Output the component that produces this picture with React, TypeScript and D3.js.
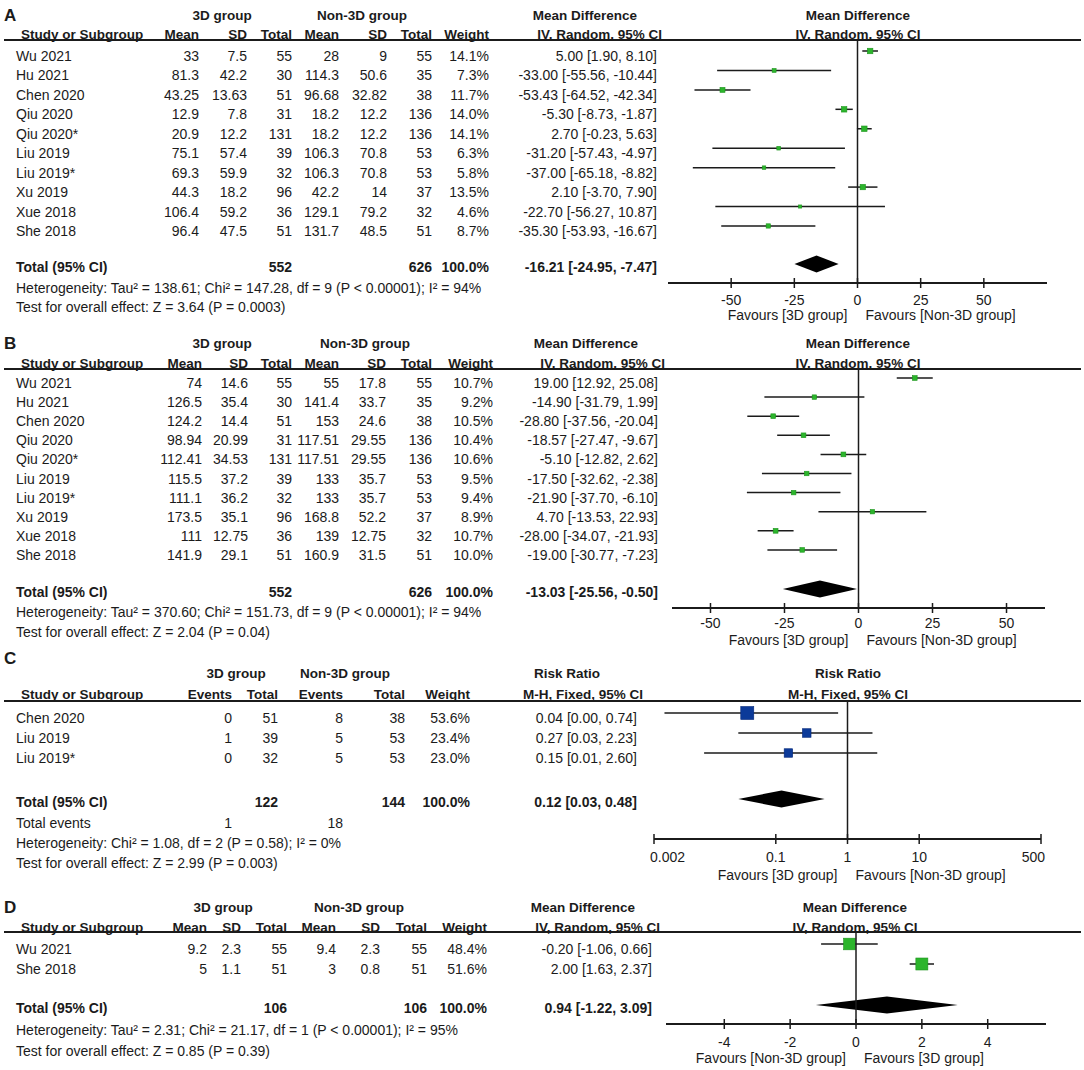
import * as d3 from "d3";

// ---------- Panel A : mean difference, random effects ----------
const STUDIES_A = ["Wu 2021", "Hu 2021", "Chen 2020", "Qiu 2020", "Qiu 2020*", "Liu 2019", "Liu 2019*", "Xu 2019", "Xue 2018", "She 2018"];
const MEAN_3D_A = [33, 81.3, 43.25, 12.9, 20.9, 75.1, 69.3, 44.3, 106.4, 96.4];
const SD_3D_A = [7.5, 42.2, 13.63, 7.8, 12.2, 57.4, 59.9, 18.2, 59.2, 47.5];
const N_3D_A = [55, 30, 51, 31, 131, 39, 32, 96, 36, 51];
const MEAN_NON_A = [28, 114.3, 96.68, 18.2, 18.2, 106.3, 106.3, 42.2, 129.1, 131.7];
const SD_NON_A = [9, 50.6, 32.82, 12.2, 12.2, 70.8, 70.8, 14, 79.2, 48.5];
const N_NON_A = [55, 35, 38, 136, 136, 53, 53, 37, 32, 51];
const WEIGHT_A = [14.1, 7.3, 11.7, 14.0, 14.1, 6.3, 5.8, 13.5, 4.6, 8.7];
const MD_A = [5.0, -33.0, -53.43, -5.3, 2.7, -31.2, -37.0, 2.1, -22.7, -35.3];
const LO_A = [1.9, -55.56, -64.52, -8.73, -0.23, -57.43, -65.18, -3.7, -56.27, -53.93];
const HI_A = [8.1, -10.44, -42.34, -1.87, 5.63, -4.97, -8.82, 7.9, 10.87, -16.67];
const TOTAL_A = { n3d: 552, nNon: 626, est: -16.21, lo: -24.95, hi: -7.47 };
const NOTES_A = [
  "Heterogeneity: Tau² = 138.61; Chi² = 147.28, df = 9 (P < 0.00001); I² = 94%",
  "Test for overall effect: Z = 3.64 (P = 0.0003)",
];

// ---------- Panel B ----------
const STUDIES_B = ["Wu 2021", "Hu 2021", "Chen 2020", "Qiu 2020", "Qiu 2020*", "Liu 2019", "Liu 2019*", "Xu 2019", "Xue 2018", "She 2018"];
const MEAN_3D_B = [74, 126.5, 124.2, 98.94, 112.41, 115.5, 111.1, 173.5, 111, 141.9];
const SD_3D_B = [14.6, 35.4, 14.4, 20.99, 34.53, 37.2, 36.2, 35.1, 12.75, 29.1];
const N_3D_B = [55, 30, 51, 31, 131, 39, 32, 96, 36, 51];
const MEAN_NON_B = [55, 141.4, 153, 117.51, 117.51, 133, 133, 168.8, 139, 160.9];
const SD_NON_B = [17.8, 33.7, 24.6, 29.55, 29.55, 35.7, 35.7, 52.2, 12.75, 31.5];
const N_NON_B = [55, 35, 38, 136, 136, 53, 53, 37, 32, 51];
const WEIGHT_B = [10.7, 9.2, 10.5, 10.4, 10.6, 9.5, 9.4, 8.9, 10.7, 10.0];
const MD_B = [19.0, -14.9, -28.8, -18.57, -5.1, -17.5, -21.9, 4.7, -28.0, -19.0];
const LO_B = [12.92, -31.79, -37.56, -27.47, -12.82, -32.62, -37.7, -13.53, -34.07, -30.77];
const HI_B = [25.08, 1.99, -20.04, -9.67, 2.62, -2.38, -6.1, 22.93, -21.93, -7.23];
const TOTAL_B = { n3d: 552, nNon: 626, est: -13.03, lo: -25.56, hi: -0.5 };
const NOTES_B = [
  "Heterogeneity: Tau² = 370.60; Chi² = 151.73, df = 9 (P < 0.00001); I² = 94%",
  "Test for overall effect: Z = 2.04 (P = 0.04)",
];

// ---------- Panel C : risk ratio, fixed effect ----------
const STUDIES_C = ["Chen 2020", "Liu 2019", "Liu 2019*"];
const EVENTS_3D_C = [0, 1, 0];
const N_3D_C = [51, 39, 32];
const EVENTS_NON_C = [8, 5, 5];
const N_NON_C = [38, 53, 53];
const WEIGHT_C = [53.6, 23.4, 23.0];
const RR_C = [0.04, 0.27, 0.15];
const LO_C = [0.0028, 0.03, 0.01];
const HI_C = [0.74, 2.23, 2.6];
const TOTAL_C = { n3d: 122, nNon: 144, ev3d: 1, evNon: 18, est: 0.12, lo: 0.03, hi: 0.48 };
const NOTES_C = [
  "Heterogeneity: Chi² = 1.08, df = 2 (P = 0.58); I² = 0%",
  "Test for overall effect: Z = 2.99 (P = 0.003)",
];

// ---------- Panel D ----------
const STUDIES_D = ["Wu 2021", "She 2018"];
const MEAN_3D_D = [9.2, 5];
const SD_3D_D = [2.3, 1.1];
const N_3D_D = [55, 51];
const MEAN_NON_D = [9.4, 3];
const SD_NON_D = [2.3, 0.8];
const N_NON_D = [55, 51];
const WEIGHT_D = [48.4, 51.6];
const MD_D = [-0.2, 2.0];
const LO_D = [-1.06, 1.63];
const HI_D = [0.66, 2.37];
const TOTAL_D = { n3d: 106, nNon: 106, est: 0.94, lo: -1.22, hi: 3.09 };
const NOTES_D = [
  "Heterogeneity: Tau² = 2.31; Chi² = 21.17, df = 1 (P < 0.00001); I² = 95%",
  "Test for overall effect: Z = 0.85 (P = 0.39)",
];

const TICKS_MD = [-50, -25, 0, 25, 50];
const TICKS_RR = [0.002, 0.1, 1, 10, 500];
const TICKS_D = [-4, -2, 0, 2, 4];

const FONT = "'Liberation Sans', Arial, Helvetica, sans-serif";
const INK = "#1b1b1b";
const GREEN = "#2cb52c";
const GREEN_EDGE = "#1f951f";
const BLUE = "#0c3a99";
const BLUE_EDGE = "#06297a";

const num = (v: number) => String(v);
const pct = (w: number) => `${w.toFixed(1)}%`;
const ciText = (e: number, l: number, h: number) => `${e.toFixed(2)} [${l.toFixed(2)}, ${h.toFixed(2)}]`;

type Column = { header: string; x: number; cells: string[]; total?: string; events?: string };

type PanelSpec = {
  letter: string;
  letterY: number;
  groupY: number;
  headY: number;
  ruleY: number;
  rowY: number;
  rowStep: number;
  totalY: number;
  eventsY?: number;
  notesY: number[];
  groups: { label: string; x: number }[];
  columns: Column[];
  studies: string[];
  effTitle: string;
  effMethod: string;
  effTitleX: number;
  effMethodX: number;
  ciX: number;
  plotTitleX: number;
  scale: (v: number) => number;
  range: number[];
  refValue: number;
  ticks: number[];
  est: number[];
  lo: number[];
  hi: number[];
  weights: number[];
  maxBox: number;
  total: { est: number; lo: number; hi: number };
  color: string;
  edge: string;
  axisY: number;
  tickY: number;
  favY: number;
  favLeft: string;
  favRight: string;
  notes: string[];
};

const Txt = ({
  x,
  y,
  children,
  anchor = "start",
  bold = false,
  size = 14,
}: {
  x: number;
  y: number;
  children: any;
  anchor?: "start" | "middle" | "end";
  bold?: boolean;
  size?: number;
}) => (
  <text
    x={x}
    y={y}
    textAnchor={anchor}
    dominantBaseline="central"
    fontWeight={bold ? "bold" : "normal"}
    fontSize={size}
    fill={INK}
  >
    {children}
  </text>
);

const Panel = (p: PanelSpec) => {
  const rowYs = p.studies.map((_, i) => p.rowY + i * p.rowStep);
  const box = d3.scaleSqrt().domain([0, d3.max(p.weights) as number]).range([0, p.maxBox]);
  const x = p.scale;
  const ref = x(p.refValue);
  const [r0, r1] = p.range;
  const dy = p.totalY - 3;
  const dh = 8.5;
  const diamond = [
    [x(p.total.lo), dy],
    [x(p.total.est), dy - dh],
    [x(p.total.hi), dy],
    [x(p.total.est), dy + dh],
  ];

  return (
    <g>
      <Txt x={4} y={p.letterY} bold size={17}>{p.letter}</Txt>
      {p.groups.map((g) => (
        <Txt key={g.label} x={g.x} y={p.groupY} anchor="middle" bold size={13.5}>{g.label}</Txt>
      ))}
      <Txt x={p.effTitleX} y={p.groupY} anchor="end" bold size={13.5}>{p.effTitle}</Txt>
      <Txt x={p.plotTitleX} y={p.groupY} anchor="middle" bold size={13.5}>{p.effTitle}</Txt>

      <Txt x={21} y={p.headY} bold size={13.5}>Study or Subgroup</Txt>
      {p.columns.map((c, i) => (
        <Txt key={i} x={c.x} y={p.headY} anchor="end" bold size={13.5}>{c.header}</Txt>
      ))}
      <Txt x={p.effMethodX} y={p.headY} anchor="end" bold size={13.5}>{p.effMethod}</Txt>
      <Txt x={p.plotTitleX} y={p.headY} anchor="middle" bold size={13.5}>{p.effMethod}</Txt>
      <line x1={4} x2={1081} y1={p.ruleY} y2={p.ruleY} stroke={INK} strokeWidth={2} />

      {p.studies.map((s, i) => (
        <g key={s}>
          <Txt x={16} y={rowYs[i]}>{s}</Txt>
          {p.columns.map((c, j) => (
            <Txt key={j} x={c.x} y={rowYs[i]} anchor="end">{c.cells[i]}</Txt>
          ))}
          <Txt x={p.ciX} y={rowYs[i]} anchor="end">{ciText(p.est[i], p.lo[i], p.hi[i])}</Txt>
          <line
            x1={Math.max(r0, x(p.lo[i]))}
            x2={Math.min(r1, x(p.hi[i]))}
            y1={rowYs[i] - 5}
            y2={rowYs[i] - 5}
            stroke={INK}
            strokeWidth={1.5}
          />
          <rect
            x={x(p.est[i]) - box(p.weights[i]) / 2}
            y={rowYs[i] - 5 - box(p.weights[i]) / 2}
            width={box(p.weights[i])}
            height={box(p.weights[i])}
            fill={p.color}
            stroke={p.edge}
            strokeWidth={0.6}
          />
        </g>
      ))}

      <Txt x={16} y={p.totalY} bold>Total (95% CI)</Txt>
      {p.columns.map((c, j) =>
        c.total ? (
          <Txt key={j} x={c.x} y={p.totalY} anchor="end" bold>{c.total}</Txt>
        ) : null,
      )}
      <Txt x={p.ciX} y={p.totalY} anchor="end" bold>{ciText(p.total.est, p.total.lo, p.total.hi)}</Txt>
      <polygon points={diamond.map((d) => d.join(",")).join(" ")} fill="#000" />

      {p.eventsY !== undefined && (
        <g>
          <Txt x={16} y={p.eventsY}>Total events</Txt>
          {p.columns.map((c, j) =>
            c.events ? (
              <Txt key={j} x={c.x} y={p.eventsY as number} anchor="end">{c.events}</Txt>
            ) : null,
          )}
        </g>
      )}

      {p.notes.map((n, i) => (
        <Txt key={i} x={16} y={p.notesY[i]}>{n}</Txt>
      ))}

      {/* forest plot */}
      <line x1={ref} x2={ref} y1={p.ruleY} y2={p.axisY} stroke={INK} strokeWidth={1.5} />
      <line x1={r0} x2={r1} y1={p.axisY} y2={p.axisY} stroke={INK} strokeWidth={2} />
      {p.ticks.map((t, i) => {
        const tx = x(t);
        let anchor: "start" | "middle" | "end" = "middle";
        let lx = tx;
        if (Math.abs(tx - r0) < 2) {
          anchor = "start";
          lx = tx - 4;
        } else if (Math.abs(tx - r1) < 2) {
          anchor = "end";
          lx = tx + 4;
        }
        return (
          <g key={i}>
            <line x1={tx} x2={tx} y1={p.axisY - 5} y2={p.axisY + 5} stroke={INK} strokeWidth={1.5} />
            <Txt x={lx} y={p.tickY} anchor={anchor}>{num(t)}</Txt>
          </g>
        );
      })}
      <Txt x={ref - 10} y={p.favY} anchor="end">{p.favLeft}</Txt>
      <Txt x={ref + 8} y={p.favY} anchor="start">{p.favRight}</Txt>
    </g>
  );
};

const mdColumns = (
  xs: number[],
  m1: number[], s1: number[], n1: number[],
  m2: number[], s2: number[], n2: number[],
  w: number[], t1: number, t2: number,
): Column[] => [
  { header: "Mean", x: xs[0], cells: m1.map(num) },
  { header: "SD", x: xs[1], cells: s1.map(num) },
  { header: "Total", x: xs[2], cells: n1.map(num), total: num(t1) },
  { header: "Mean", x: xs[3], cells: m2.map(num) },
  { header: "SD", x: xs[4], cells: s2.map(num) },
  { header: "Total", x: xs[5], cells: n2.map(num), total: num(t2) },
  { header: "Weight", x: xs[6], cells: w.map(pct), total: "100.0%" },
];

export default function App() {
  const xA = d3.scaleLinear().domain([-75, 75]).range([668, 1047]);
  const xB = d3.scaleLinear().domain([-63, 63]).range([672, 1045]);
  const xC = d3.scaleLog().domain([0.002, 500]).range([654, 1041]);
  const xD = d3.scaleLinear().domain([-5.77, 5.77]).range([666, 1046]);

  return (
    <div style={{ position: "absolute", left: 0, top: 0 }}>
      <svg width={1084} height={1070} style={{ display: "block", background: "#fff" }} fontFamily={FONT}>
        <Panel
          letter="A" letterY={15} groupY={15} headY={34} ruleY={40}
          rowY={56} rowStep={19.44} totalY={267} notesY={[288, 307]}
          groups={[{ label: "3D group", x: 222 }, { label: "Non-3D group", x: 362 }]}
          columns={mdColumns([199, 247, 292, 339, 387, 432, 489], MEAN_3D_A, SD_3D_A, N_3D_A, MEAN_NON_A, SD_NON_A, N_NON_A, WEIGHT_A, TOTAL_A.n3d, TOTAL_A.nNon)}
          studies={STUDIES_A}
          effTitle="Mean Difference" effMethod="IV, Random, 95% CI" effTitleX={637} effMethodX={662}
          ciX={657} plotTitleX={858}
          scale={xA} range={xA.range()} refValue={0} ticks={TICKS_MD}
          est={MD_A} lo={LO_A} hi={HI_A} weights={WEIGHT_A} maxBox={5.5}
          total={TOTAL_A} color={GREEN} edge={GREEN_EDGE}
          axisY={283} tickY={300} favY={315}
          favLeft="Favours [3D group]" favRight="Favours [Non-3D group]"
          notes={NOTES_A}
        />
        <Panel
          letter="B" letterY={343} groupY={343} headY={363} ruleY={369}
          rowY={383} rowStep={19.1} totalY={592} notesY={[612, 632]}
          groups={[{ label: "3D group", x: 222 }, { label: "Non-3D group", x: 365 }]}
          columns={mdColumns([202, 248, 292, 339, 386, 432, 493], MEAN_3D_B, SD_3D_B, N_3D_B, MEAN_NON_B, SD_NON_B, N_NON_B, WEIGHT_B, TOTAL_B.n3d, TOTAL_B.nNon)}
          studies={STUDIES_B}
          effTitle="Mean Difference" effMethod="IV, Random, 95% CI" effTitleX={638} effMethodX={665}
          ciX={658} plotTitleX={858}
          scale={xB} range={xB.range()} refValue={0} ticks={TICKS_MD}
          est={MD_B} lo={LO_B} hi={HI_B} weights={WEIGHT_B} maxBox={4.8}
          total={TOTAL_B} color={GREEN} edge={GREEN_EDGE}
          axisY={608} tickY={623} favY={640}
          favLeft="Favours [3D group]" favRight="Favours [Non-3D group]"
          notes={NOTES_B}
        />
        <Panel
          letter="C" letterY={658} groupY={673} headY={694} ruleY={701}
          rowY={718} rowStep={20} totalY={802} eventsY={823} notesY={[843, 863]}
          groups={[{ label: "3D group", x: 236 }, { label: "Non-3D group", x: 345 }]}
          columns={[
            { header: "Events", x: 232, cells: EVENTS_3D_C.map(num), events: num(TOTAL_C.ev3d) },
            { header: "Total", x: 278, cells: N_3D_C.map(num), total: num(TOTAL_C.n3d) },
            { header: "Events", x: 343, cells: EVENTS_NON_C.map(num), events: num(TOTAL_C.evNon) },
            { header: "Total", x: 405, cells: N_NON_C.map(num), total: num(TOTAL_C.nNon) },
            { header: "Weight", x: 470, cells: WEIGHT_C.map(pct), total: "100.0%" },
          ]}
          studies={STUDIES_C}
          effTitle="Risk Ratio" effMethod="M-H, Fixed, 95% CI" effTitleX={600} effMethodX={643}
          ciX={637} plotTitleX={848}
          scale={xC} range={xC.range()} refValue={1} ticks={TICKS_RR}
          est={RR_C} lo={LO_C} hi={HI_C} weights={WEIGHT_C} maxBox={13}
          total={TOTAL_C} color={BLUE} edge={BLUE_EDGE}
          axisY={839} tickY={857} favY={875}
          favLeft="Favours [3D group]" favRight="Favours [Non-3D group]"
          notes={NOTES_C}
        />
        <Panel
          letter="D" letterY={907} groupY={907} headY={927} ruleY={932}
          rowY={949} rowStep={20} totalY={1008} notesY={[1030, 1051]}
          groups={[{ label: "3D group", x: 223 }, { label: "Non-3D group", x: 359 }]}
          columns={mdColumns([207, 241, 287, 336, 380, 427, 487], MEAN_3D_D, SD_3D_D, N_3D_D, MEAN_NON_D, SD_NON_D, N_NON_D, WEIGHT_D, TOTAL_D.n3d, TOTAL_D.nNon)}
          studies={STUDIES_D}
          effTitle="Mean Difference" effMethod="IV, Random, 95% CI" effTitleX={635} effMethodX={660}
          ciX={652} plotTitleX={855}
          scale={xD} range={xD.range()} refValue={0} ticks={TICKS_D}
          est={MD_D} lo={LO_D} hi={HI_D} weights={WEIGHT_D} maxBox={12}
          total={TOTAL_D} color={GREEN} edge={GREEN_EDGE}
          axisY={1024} tickY={1042} favY={1058}
          favLeft="Favours [Non-3D group]" favRight="Favours [3D group]"
          notes={NOTES_D}
        />
      </svg>
    </div>
  );
}
